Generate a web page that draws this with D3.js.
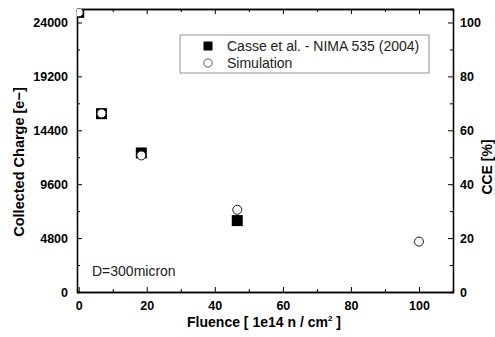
<!DOCTYPE html>
<html>
<head>
<meta charset="utf-8">
<script src="https://cdn.jsdelivr.net/npm/d3@7"></script>
<style>
  body { margin: 0; background: #fff; }
  svg { font-family: "Liberation Sans", Arial, sans-serif; }
</style>
</head>
<body>
<svg width="495" height="337"></svg>
<script>
// measured data (fluence in 1e14 n/cm2, charge in electrons)
var casseFluence = [0, 6.7, 18.4, 46.6];
var casseCharge  = [24900, 15880, 12380, 6360];
var simFluence   = [0, 6.7, 18.4, 46.6, 100];
var simCharge    = [24900, 15900, 12160, 7320, 4490];

var xTicks = [0, 20, 40, 60, 80, 100];
var yTicks = [0, 4800, 9600, 14400, 19200, 24000];
var cceTicks = [0, 20, 40, 60, 80, 100];
var legendLabels = ["Casse et al. - NIMA 535 (2004)", "Simulation"];

var svg = d3.select("svg"),
    margin = {left: 77, right: 42, top: 9, bottom: 45},
    width = 495 - margin.left - margin.right,
    height = 337 - margin.top - margin.bottom;

var x = d3.scaleLinear().domain([-0.5, 110]).range([0, width]);
var y = d3.scaleLinear().domain([0, 25200]).range([height, 0]);
var yR = d3.scaleLinear().domain([0, 105]).range([height, 0]);

var g = svg.append("g").attr("transform", "translate(" + margin.left + "," + margin.top + ")");

g.append("clipPath").attr("id", "clip")
  .append("rect").attr("width", width).attr("height", height);

// minor ticks
function minor(axis, scale, vals) {
  return axis(scale).tickValues(vals).tickSize(-3).tickFormat("");
}
var xMinor = d3.range(10, 110, 20);
var yMinor = d3.range(2400, 25200, 4800);
var rMinor = d3.range(10, 105, 20);

g.append("g").attr("transform", "translate(0," + height + ")").call(minor(d3.axisBottom, x, xMinor));
g.append("g").call(minor(d3.axisTop, x, xMinor));
g.append("g").call(minor(d3.axisLeft, y, yMinor));
g.append("g").attr("transform", "translate(" + width + ",0)").call(minor(d3.axisRight, yR, rMinor));

// major axes
var fmt = d3.format("d");
g.append("g").attr("class", "axis")
  .attr("transform", "translate(0," + height + ")")
  .call(d3.axisBottom(x).tickValues(xTicks).tickFormat(fmt).tickSize(-5).tickPadding(9).tickSizeOuter(0));
g.append("g").attr("class", "axis")
  .call(d3.axisTop(x).tickValues(xTicks).tickSize(-5).tickFormat("").tickSizeOuter(0));
g.append("g").attr("class", "axis")
  .call(d3.axisLeft(y).tickValues(yTicks).tickFormat(fmt).tickSize(-5).tickPadding(9).tickSizeOuter(0));
g.append("g").attr("class", "axis")
  .attr("transform", "translate(" + width + ",0)")
  .call(d3.axisRight(yR).tickValues(cceTicks).tickFormat(fmt).tickSize(-5).tickPadding(7).tickSizeOuter(0));

g.selectAll(".domain").attr("stroke", "#000").attr("stroke-width", 1.3);
g.selectAll(".tick line").attr("stroke", "#000").attr("stroke-width", 1);
g.selectAll(".axis text").attr("font-size", 12.5).attr("font-weight", "bold")
  .attr("fill", "#000").attr("font-family", "Liberation Sans, Arial, sans-serif");

// points
var pts = g.append("g").attr("clip-path", "url(#clip)");
var casse = casseFluence.map(function(f, i) { return {x: f, y: casseCharge[i]}; });
var sim = simFluence.map(function(f, i) { return {x: f, y: simCharge[i]}; });

pts.selectAll("rect").data(casse).enter().append("rect")
  .attr("x", function(d) { return x(d.x) - 5.5; })
  .attr("y", function(d) { return y(d.y) - 5.5; })
  .attr("width", 11).attr("height", 11)
  .attr("fill", "#000");

pts.selectAll("circle").data(sim).enter().append("circle")
  .attr("cx", function(d) { return x(d.x); })
  .attr("cy", function(d) { return y(d.y); })
  .attr("r", 4.5)
  .attr("fill", "#fff").attr("stroke", "#000").attr("stroke-width", 0.9);

// legend
var leg = svg.append("g").attr("transform", "translate(180,35)");
leg.append("rect").attr("width", 249).attr("height", 38)
  .attr("fill", "#fff").attr("stroke", "#777").attr("stroke-width", 0.8);
leg.append("rect").attr("x", 23.5).attr("y", 6.5).attr("width", 9).attr("height", 9).attr("fill", "#000");
leg.append("circle").attr("cx", 28).attr("cy", 28).attr("r", 4.2)
  .attr("fill", "#fff").attr("stroke", "#333").attr("stroke-width", 0.8);
leg.selectAll("text.l").data(legendLabels).enter().append("text")
  .attr("x", 47).attr("y", function(d, i) { return 16 + i * 17; })
  .attr("font-size", 14).attr("fill", "#222").text(function(d) { return d; });

// annotation
svg.append("text").attr("x", 92).attr("y", 276)
  .attr("font-size", 14).attr("fill", "#222").text("D=300micron");

// axis titles
svg.append("text")
  .attr("transform", "translate(24,162) rotate(-90)")
  .attr("text-anchor", "middle").attr("font-size", 14.5).attr("font-weight", "bold")
  .text("Collected Charge [e\u2212]");

svg.append("text")
  .attr("transform", "translate(492,167) rotate(-90)")
  .attr("text-anchor", "middle").attr("font-size", 14).attr("font-weight", "bold")
  .text("CCE [%]");

var xl = svg.append("text").attr("x", 264).attr("y", 327)
  .attr("text-anchor", "middle").attr("font-size", 14).attr("font-weight", "bold");
xl.append("tspan").text("Fluence [ 1e14 n / cm");
xl.append("tspan").attr("dy", -6).attr("font-size", 8).text("2");
xl.append("tspan").attr("dy", 6).text(" ]");
</script>
</body>
</html>
